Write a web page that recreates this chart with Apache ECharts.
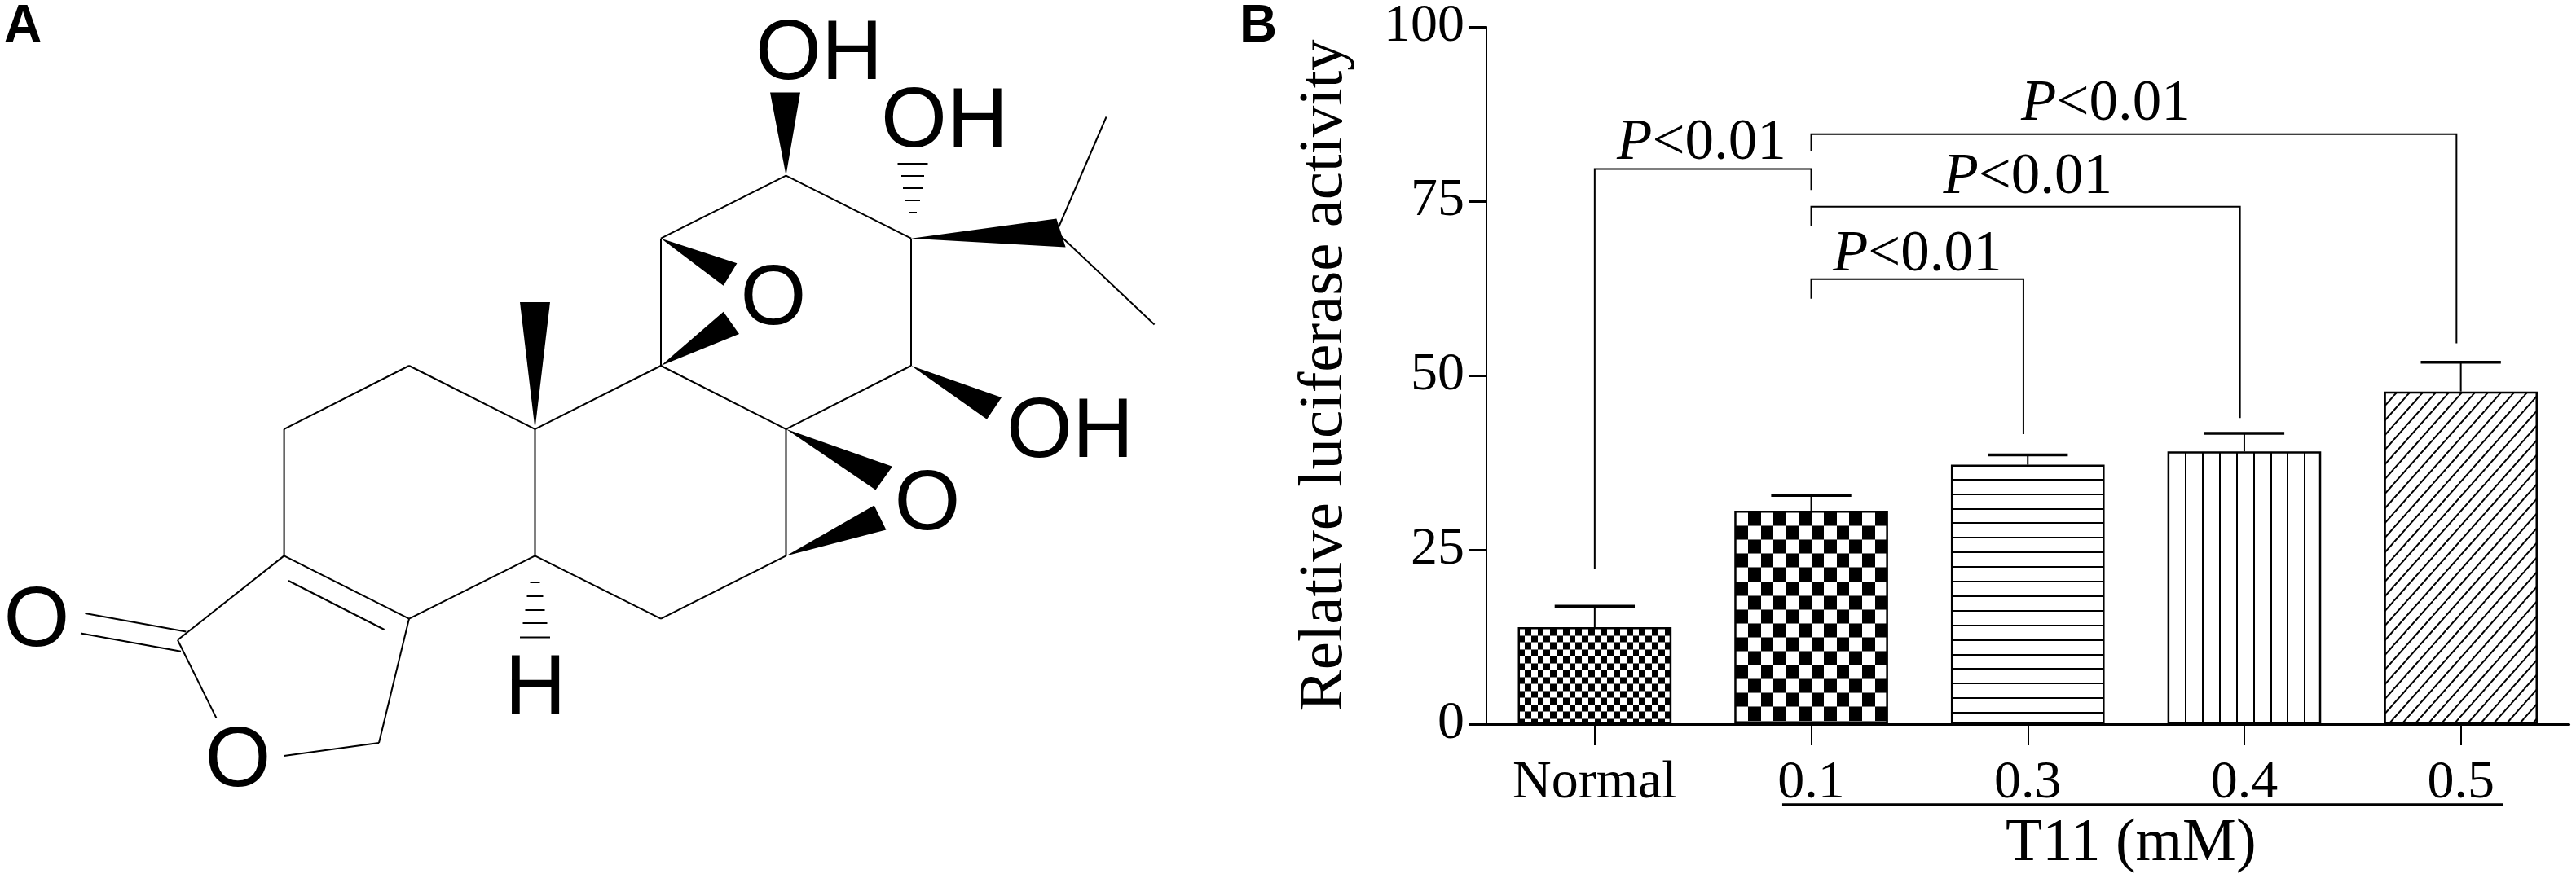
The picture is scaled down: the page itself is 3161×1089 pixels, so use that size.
<!DOCTYPE html>
<html>
<head>
<meta charset="utf-8">
<style>html,body{margin:0;padding:0;background:#fff}#c{width:3161px;height:1089px}</style>
<script src="https://cdn.jsdelivr.net/npm/echarts@6/dist/echarts.min.js"></script>
</head>
<body>
<div id="c"></div>
<script>
// ---------- Panel B data ----------
const categories = ['Normal', '0.1', '0.3', '0.4', '0.5'];
const barValues = [13.9, 30.6, 37.2, 39.1, 47.7];
const errorTops = [16.9, 32.8, 38.6, 41.7, 51.9];
const yTicks = [0, 100, 25];
// bracket polylines: [x (category units), value] points
const brackets = [
  [[0, 22.2], [0, 79.6], [1, 79.6], [1, 76.6]],
  [[1, 82.2], [1, 84.6], [3.98, 84.6], [3.98, 54.6]],
  [[1, 71.4], [1, 74.2], [2.98, 74.2], [2.98, 43.9]],
  [[1, 61.0], [1, 63.8], [1.98, 63.8], [1.98, 41.6]]
];
const pLabels = [[0.493, 83.3], [2.36, 88.9], [2.0, 78.3], [1.49, 67.3]];
const groupLine = [[0.866, -11.55], [4.196, -11.55]];
const groupLabel = ['T11 (mM)', 2.476, -17.2];

// ---------- Panel A data (structure drawn on a hidden 1450 x 1000 axis pair) ----------
const bonds = [
  [964.5,215.6,1118,292.7],[1118,292.7,1118,449],[1118,449,964.5,526.8],[964.5,526.8,811,449],
  [811,449,811,292.7],[811,292.7,964.5,215.6],[811,449,656.5,526.8],[656.5,526.8,502,449],
  [502,449,348.6,526.8],[348.6,526.8,348.6,682.4],[348.6,682.4,502,759.6],[502,759.6,656.5,682.4],
  [656.5,682.4,656.5,526.8],[656.5,682.4,811,759.6],[811,759.6,964.5,682.4],[964.5,682.4,964.5,526.8],
  [348.6,682.4,218,785.7],[218,785.7,265.4,881.4],[348.6,927.9,465,912],[465,912,502,759.6],
  [354,713,471.6,773],[104.5,753,228.4,775.5],[99,777.5,222,799.7],
  [1296.4,285,1357.6,143.5],[1296.4,285,1416.6,398.6]
];
const wedges = [
  [964.5,215.6,945,113.5,982,113.5],
  [1118,292.7,1296.4,268.5,1307.6,303.6],
  [1118,449,1229,488,1211,514.7],
  [811,292.7,904.4,323.3,887.7,350.8],
  [811,449,887.7,382.7,907,410],
  [964.5,526.8,1095,572.7,1074.5,601.4],
  [964.5,682.4,1072.7,620.5,1087.4,650.5],
  [656.5,526.8,638,371,675,371]
];
const hashes = [
  [1120,201,18.5],[1120,216,14],[1120,231,12],[1120,246,9],[1120,261,5],
  [656.5,715,6],[656.5,732,10],[656.5,749,12],[656.5,765,15],[656.5,782.5,18.5]
];
const atomLabels = [
  ['OH',1005,64],['OH',1159,147],['OH',1313,528],['O',949,365],
  ['O',1138,617],['H',657,843],['O',45,760],['O',292,932]
];

// ---------- Fill patterns ----------
function tile(w, h, draw) {
  const c = document.createElement('canvas');
  c.width = w; c.height = h;
  const g = c.getContext('2d');
  g.fillStyle = '#fff'; g.fillRect(0, 0, w, h);
  g.fillStyle = '#000'; g.strokeStyle = '#000';
  draw(g, w, h);
  return c;
}
function checker(cw, ch, nx, ny, phaseX, phaseY, grey) {
  const W = Math.round(cw * 2 * nx), H = Math.round(ch * 2 * ny);
  return tile(W, H, function (g) {
    function wrapRect(x, y, w, h) {
      [0, -W].forEach(function (dx) {
        [0, -H].forEach(function (dy) { g.fillRect(x + dx, y + dy, w, h); });
      });
    }
    for (let r = 0; r < ny * 2; r++) {
      const y0 = Math.round(r * ch), y1 = Math.round((r + 1) * ch);
      for (let k = 0; k < nx * 2; k++) {
        if ((r + k) % 2 === 0) {
          const x0 = Math.round(k * cw), x1 = Math.round((k + 1) * cw);
          g.fillStyle = '#000';
          wrapRect((x0 + phaseX) % W, (y0 + phaseY) % H, x1 - x0, y1 - y0);
        }
      }
      g.fillStyle = grey;
      wrapRect(0, (y0 + phaseY) % H, W, 1);
    }
  });
}
const patterns = [
  checker(7.8, 8.5, 10, 10, 155, 91, '#777'),
  checker(15.55, 17.1, 10, 10, 279, 286, '#777'),
  tile(1, 179, function (g) { for (let i = 0; i < 10; i++) g.fillRect(0, Math.round(14.9 + i * 17.9) % 179, 1, 2); }),
  tile(209, 1, function (g) { for (let i = 0; i < 10; i++) g.fillRect(Math.round(5.8 + i * 20.9) % 209, 0, 2, 1); }),
  tile(16, 18, function (g, w, h) {
    g.lineWidth = 2;
    for (let k = -2; k <= 1; k++) { g.beginPath(); g.moveTo(k * w + 9.3, h); g.lineTo((k + 1) * w + 9.3, 0); g.stroke(); }
  })
];

const serif = '"Liberation Serif","Times New Roman",serif';
const sans = '"Liberation Sans",Arial,sans-serif';
const chart = echarts.init(document.getElementById('c'), null, { renderer: 'canvas' });

function lineEl(api, a, b, w) {
  const p = api.coord(a), q = api.coord(b);
  return { type: 'line', shape: { x1: p[0], y1: p[1], x2: q[0], y2: q[1] },
    style: { stroke: '#000', lineWidth: w, fill: null } };
}

chart.setOption({
  animation: false,
  backgroundColor: '#fff',
  grid: [
    { left: 1824, top: 32, width: 1328.5, height: 857, containLabel: false },
    { left: 0, top: 0, width: 1450, height: 1000, containLabel: false }
  ],
  graphic: [
    { type: 'text', left: 5, top: 1, style: { text: 'A', fontFamily: sans, fontWeight: 'bold', fontSize: 64, fill: '#000' } },
    { type: 'text', left: 1521, top: 1, style: { text: 'B', fontFamily: sans, fontWeight: 'bold', fontSize: 64, fill: '#000' } }
  ],
  xAxis: [
    { type: 'category', gridIndex: 0, data: categories,
      axisLine: { onZero: false, lineStyle: { color: '#000', width: 3 } },
      axisTick: { show: true, alignWithLabel: true, length: 26, lineStyle: { color: '#000', width: 2 } },
      axisLabel: { color: '#000', fontFamily: serif, fontSize: 66, margin: 40, interval: 0 },
      splitLine: { show: false } },
    { type: 'value', gridIndex: 0, min: -0.5, max: 4.5, show: false },
    { type: 'value', gridIndex: 1, min: 0, max: 1450, show: false }
  ],
  yAxis: [
    { type: 'value', gridIndex: 0, min: yTicks[0], max: yTicks[1], interval: yTicks[2],
      name: 'Relative luciferase activity', nameLocation: 'middle', nameGap: 160, nameRotate: 90,
      nameMoveOverlap: false,
      nameTextStyle: { color: '#000', fontFamily: serif, fontSize: 77 },
      axisLine: { show: true, onZero: false, lineStyle: { color: '#000', width: 2 } },
      axisTick: { show: true, length: 22, lineStyle: { color: '#000', width: 3 } },
      axisLabel: { color: '#000', fontFamily: serif, fontSize: 66, margin: 27, padding: [6, 0, 0, 0] },
      splitLine: { show: false } },
    { type: 'value', gridIndex: 1, min: 0, max: 1000, inverse: true, show: false }
  ],
  series: [
    { type: 'bar', xAxisIndex: 0, yAxisIndex: 0, barWidth: '71%', silent: true,
      data: barValues.map(function (v, i) {
        return { value: v, itemStyle: {
          color: { image: patterns[i], repeat: 'repeat' }, borderColor: '#000', borderWidth: 2.5 } };
      }) },
    { type: 'custom', name: 'error', xAxisIndex: 0, yAxisIndex: 0, silent: true, z: 5,
      data: errorTops.map(function (e, i) { return [i, barValues[i], e]; }),
      renderItem: function (params, api) {
        const i = api.value(0), cap = api.coord([i, api.value(2)]);
        const half = api.size([1, 0])[0] * 0.185;
        return { type: 'group', children: [
          lineEl(api, [i, api.value(1)], [i, api.value(2)], 2),
          { type: 'line', shape: { x1: cap[0] - half, y1: cap[1], x2: cap[0] + half, y2: cap[1] },
            style: { stroke: '#000', lineWidth: 3.5 } }
        ] };
      } },
    { type: 'custom', name: 'brackets', xAxisIndex: 1, yAxisIndex: 0, silent: true, z: 5,
      data: brackets.map(function (b, i) { return [i]; }),
      renderItem: function (params, api) {
        const pts = brackets[api.value(0)].map(function (p) { return api.coord(p); });
        return { type: 'polyline', shape: { points: pts }, style: { stroke: '#000', lineWidth: 2, fill: null } };
      } },
    { type: 'custom', name: 'pvalues', xAxisIndex: 1, yAxisIndex: 0, silent: true, z: 6,
      data: pLabels,
      renderItem: function (params, api) {
        const p = api.coord([api.value(0), api.value(1)]);
        return { type: 'text', style: { text: '{i|P}<0.01', x: p[0], y: p[1], align: 'center', verticalAlign: 'middle',
          fontFamily: serif, fontSize: 71, fill: '#000',
          rich: { i: { fontFamily: serif, fontStyle: 'italic', fontSize: 71, fill: '#000' } } } };
      } },
    { type: 'custom', name: 'group', xAxisIndex: 1, yAxisIndex: 0, silent: true, z: 6,
      data: [[groupLabel[1], groupLabel[2]]],
      renderItem: function (params, api) {
        const p = api.coord([api.value(0), api.value(1)]);
        return { type: 'group', children: [
          lineEl(api, groupLine[0], groupLine[1], 3),
          { type: 'text', style: { text: groupLabel[0], x: p[0], y: p[1], align: 'center', verticalAlign: 'middle',
            fontFamily: serif, fontSize: 74, fill: '#000' } }
        ] };
      } },
    { type: 'custom', name: 'bonds', xAxisIndex: 2, yAxisIndex: 1, silent: true,
      data: bonds,
      renderItem: function (params, api) {
        return lineEl(api, [api.value(0), api.value(1)], [api.value(2), api.value(3)], 2);
      } },
    { type: 'custom', name: 'wedges', xAxisIndex: 2, yAxisIndex: 1, silent: true,
      data: wedges,
      renderItem: function (params, api) {
        return { type: 'polygon', shape: { points: [
          api.coord([api.value(0), api.value(1)]),
          api.coord([api.value(2), api.value(3)]),
          api.coord([api.value(4), api.value(5)])
        ] }, style: { fill: '#000' } };
      } },
    { type: 'custom', name: 'hashes', xAxisIndex: 2, yAxisIndex: 1, silent: true,
      data: hashes,
      renderItem: function (params, api) {
        const x = api.value(0), y = api.value(1), h = api.value(2);
        return lineEl(api, [x - h, y], [x + h, y], 2);
      } },
    { type: 'custom', name: 'atoms', xAxisIndex: 2, yAxisIndex: 1, silent: true, z: 6,
      encode: { x: 1, y: 2 },
      data: atomLabels,
      renderItem: function (params, api) {
        const row = atomLabels[params.dataIndex];
        const p = api.coord([row[1], row[2]]);
        return { type: 'text', style: { text: row[0], x: p[0], y: p[1] + 4, align: 'center', verticalAlign: 'middle',
          fontFamily: sans, fontSize: 104, fill: '#000' } };
      } }
  ]
});
</script>
</body>
</html>
